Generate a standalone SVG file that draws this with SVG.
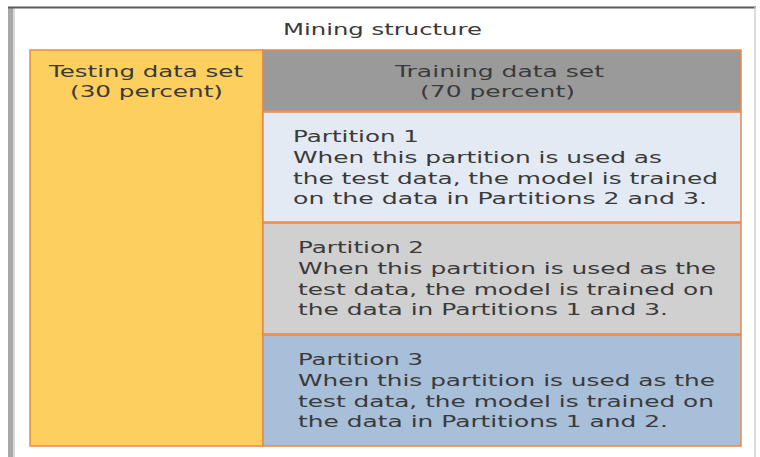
<svg xmlns="http://www.w3.org/2000/svg" width="760" height="457" viewBox="0 0 760 457">
<style>
text{font-family:"DejaVu Sans",Verdana,sans-serif;font-size:15px;fill:#3a3a3a}
.c{text-anchor:middle}
.box{stroke:#E8894A;stroke-width:1.5}
</style>
<rect x="0" y="0" width="760" height="457" fill="#ffffff"/>
<g id="frame">
<rect x="8" y="7" width="6" height="450" fill="#a8a8a8"/>
<rect x="13" y="7" width="2" height="450" fill="#d8d8d8"/>
<line x1="8" y1="7.5" x2="756" y2="7.5" stroke="#5a5a5a" stroke-width="2"/>
<line x1="755" y1="7" x2="755" y2="457" stroke="#cfcfcf" stroke-width="1.5"/>
<text class="c" x="382.5" y="35" textLength="199" lengthAdjust="spacingAndGlyphs">Mining structure</text>
</g>
<g id="testing">
<rect class="box" x="30" y="50" width="233" height="396" fill="#FCCF5E"/>
<text class="c" x="146" y="77" textLength="194" lengthAdjust="spacingAndGlyphs">Testing data set</text>
<text class="c" x="146.5" y="97" textLength="153" lengthAdjust="spacingAndGlyphs">(30 percent)</text>
</g>
<g id="training">
<rect class="box" x="263" y="50" width="478" height="61" fill="#9A9A9A"/>
<text class="c" x="499.5" y="77" textLength="209" lengthAdjust="spacingAndGlyphs">Training data set</text>
<text class="c" x="497.5" y="97" textLength="155" lengthAdjust="spacingAndGlyphs">(70 percent)</text>
</g>
<g id="partition1">
<rect class="box" x="263" y="112" width="478" height="110" fill="#E3EAF4"/>
<text x="293" y="142" textLength="126" lengthAdjust="spacingAndGlyphs">Partition 1</text>
<text x="293" y="163" textLength="369" lengthAdjust="spacingAndGlyphs">When this partition is used as</text>
<text x="293" y="184" textLength="425" lengthAdjust="spacingAndGlyphs">the test data, the model is trained</text>
<text x="293" y="204" textLength="414" lengthAdjust="spacingAndGlyphs">on the data in Partitions 2 and 3.</text>
</g>
<g id="partition2">
<rect class="box" x="263" y="223" width="478" height="111" fill="#D0D0D0"/>
<text x="298" y="253" textLength="126" lengthAdjust="spacingAndGlyphs">Partition 2</text>
<text x="298" y="274" textLength="418" lengthAdjust="spacingAndGlyphs">When this partition is used as the</text>
<text x="298" y="295" textLength="416" lengthAdjust="spacingAndGlyphs">test data, the model is trained on</text>
<text x="298" y="315" textLength="370" lengthAdjust="spacingAndGlyphs">the data in Partitions 1 and 3.</text>
</g>
<g id="partition3">
<rect class="box" x="263" y="335" width="478" height="111" fill="#A7BFD8"/>
<text x="298" y="365" textLength="125" lengthAdjust="spacingAndGlyphs">Partition 3</text>
<text x="298" y="386" textLength="417" lengthAdjust="spacingAndGlyphs">When this partition is used as the</text>
<text x="298" y="407" textLength="416" lengthAdjust="spacingAndGlyphs">test data, the model is trained on</text>
<text x="298" y="427" textLength="370" lengthAdjust="spacingAndGlyphs">the data in Partitions 1 and 2.</text>
</g>
<g id="connectors"></g>
</svg>
